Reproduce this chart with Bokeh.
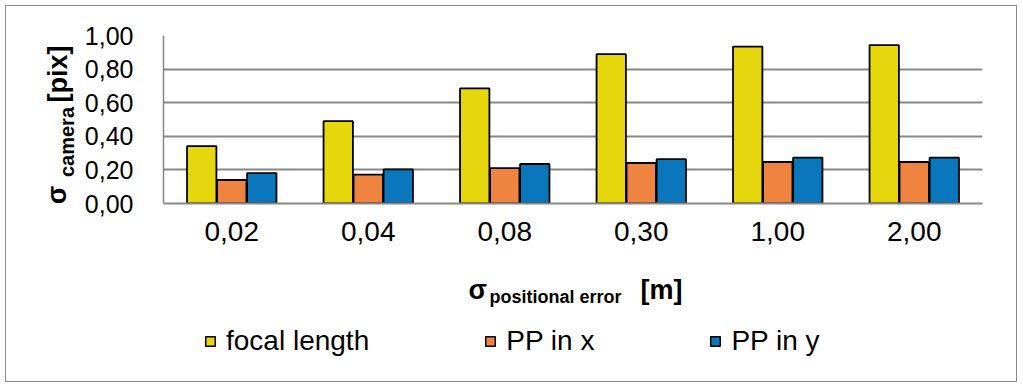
import math
from bokeh.plotting import figure
from bokeh.layouts import row, column
from bokeh.models import (ColumnDataSource, FactorRange, Range1d, FixedTicker,
                          Legend, LegendItem, Label)
from bokeh.core.properties import value
from bokeh.transform import dodge
from bokeh.embed import file_html
from bokeh.resources import INLINE

# ---- data ----
categories = ["0,02", "0,04", "0,08", "0,30", "1,00", "2,00"]
focal_length = [0.341, 0.490, 0.685, 0.889, 0.934, 0.943]
pp_in_x = [0.140, 0.172, 0.211, 0.241, 0.247, 0.247]
pp_in_y = [0.181, 0.203, 0.235, 0.264, 0.273, 0.273]
series_names = ["focal length", "PP in x", "PP in y"]
y_ticks = [0.0, 0.2, 0.4, 0.6, 0.8, 1.0]
y_tick_labels = ["0,00", "0,20", "0,40", "0,60", "0,80", "1,00"]

colors = ["#E5D70B", "#EE843F", "#0A77BD"]
FONT = "Liberation Sans"
GRID = "#878787"
TOP, BOTTOM = 29, 58          # borders of the main chart above / below its frame

# ---------- main chart ----------
src = ColumnDataSource(dict(cat=categories, f=focal_length, x=pp_in_x, y=pp_in_y))

p = figure(x_range=FactorRange(*categories, range_padding=0.0),
           y_range=Range1d(0, 1.0),
           width=930, height=255,
           min_border_left=83, min_border_right=28,
           min_border_top=TOP, min_border_bottom=BOTTOM,
           output_backend="svg", toolbar_location=None,
           background_fill_color="white", border_fill_color="white")
p.outline_line_color = None

cols = ["f", "x", "y"]
offsets = [-0.22, 0.0, 0.22]
renderers = []
for c, off, col in zip(cols, offsets, colors):
    r = p.vbar(x=dodge("cat", off, range=p.x_range), top=c, width=0.215,
               bottom=0, source=src, fill_color=col, line_color="black",
               line_width=1.8)
    renderers.append(r)

p.yaxis.ticker = FixedTicker(ticks=y_ticks)
p.yaxis.major_label_overrides = {t: s for t, s in zip(y_ticks, y_tick_labels)}
p.yaxis.major_label_text_font = FONT
p.yaxis.major_label_text_font_size = "25px"
p.yaxis.major_label_text_color = "black"
p.yaxis.major_tick_line_color = None
p.yaxis.minor_tick_line_color = None
p.yaxis.major_tick_out = 0
p.yaxis.major_label_standoff = 30
p.yaxis.axis_line_color = GRID
p.yaxis.axis_line_width = 1.5

p.xaxis.major_label_text_font = FONT
p.xaxis.major_label_text_font_size = "28px"
p.xaxis.major_label_text_color = "black"
p.xaxis.major_tick_line_color = None
p.xaxis.major_tick_out = 0
p.xaxis.major_label_standoff = 18
p.xaxis.axis_line_color = GRID
p.xaxis.axis_line_width = 2

p.xgrid.grid_line_color = None
p.ygrid.grid_line_color = GRID
p.ygrid.grid_line_width = 2

# ---------- helper panels (pixel coordinates, y measured upward) ----------
def panel(w, h, top=0, bottom=0):
    f = figure(width=w, height=h, x_range=Range1d(0, w),
               y_range=Range1d(bottom, h - top),
               min_border_left=0, min_border_right=0,
               min_border_top=top, min_border_bottom=bottom,
               x_axis_location=None, y_axis_location=None,
               output_backend="svg", toolbar_location=None,
               background_fill_color="white", border_fill_color="white")
    f.outline_line_color = None
    f.grid.visible = False
    return f

def txt(f, x, y, s, size):
    f.text(x=[x], y=[y], text=[s], text_font=value(FONT),
           text_font_size=value(size), text_font_style="bold",
           text_color="black", text_align="left", text_baseline="alphabetic")

def vlabel(f, x, y, s, size):
    f.add_layout(Label(x=x, y=y, text=s, angle=math.pi / 2,
                       text_font=FONT, text_font_size=size,
                       text_font_style="bold", text_color="black",
                       text_align="center", text_baseline="middle"))

# left strip (page x 6..80, page y 6..261): y-axis title, pieces centred;
# its frame lines up with the main chart's frame
L = panel(74, 255, TOP, BOTTOM)
vlabel(L, 50.5, 66.5, "σ", "27px")
vlabel(L, 60.3, 119.5, "camera", "20px")
vlabel(L, 51.0, 187.5, "[pix]", "27px")

# bottom strip (page x 6..1016, page y 261..381): x-axis title and legend
B = panel(1010, 120)
txt(B, 462, 92, "σ", "27px")
txt(B, 483, 85, "positional error", "18px")
txt(B, 634, 92, "[m]", "27px")

# legend proxies (one zero-size bar each, lying outside the visible strip)
proxy = ColumnDataSource(dict(x=[-50], top=[0]))
dummies = []
for col in colors:
    d = B.vbar(x="x", top="top", bottom=0, width=0, source=proxy,
               fill_color=col, line_color="black", line_width=1.5)
    dummies.append(d)

legend = Legend(items=[LegendItem(label=n, renderers=[d]) for n, d in zip(series_names, dummies)],
                orientation="horizontal", location=(198, 24),
                glyph_width=12, glyph_height=12, label_standoff=10, spacing=115,
                padding=0, margin=0, border_line_color=None,
                background_fill_alpha=0,
                label_text_font=FONT, label_text_font_size="28px",
                label_text_color="black")
B.add_layout(legend)

layout = column(row(L, p), B)
layout.margin = (6, 0, 0, 6)
layout.styles = {"outline": "1.5px solid #8a8a8a"}

open("out.html", "w").write(file_html(layout, INLINE))
